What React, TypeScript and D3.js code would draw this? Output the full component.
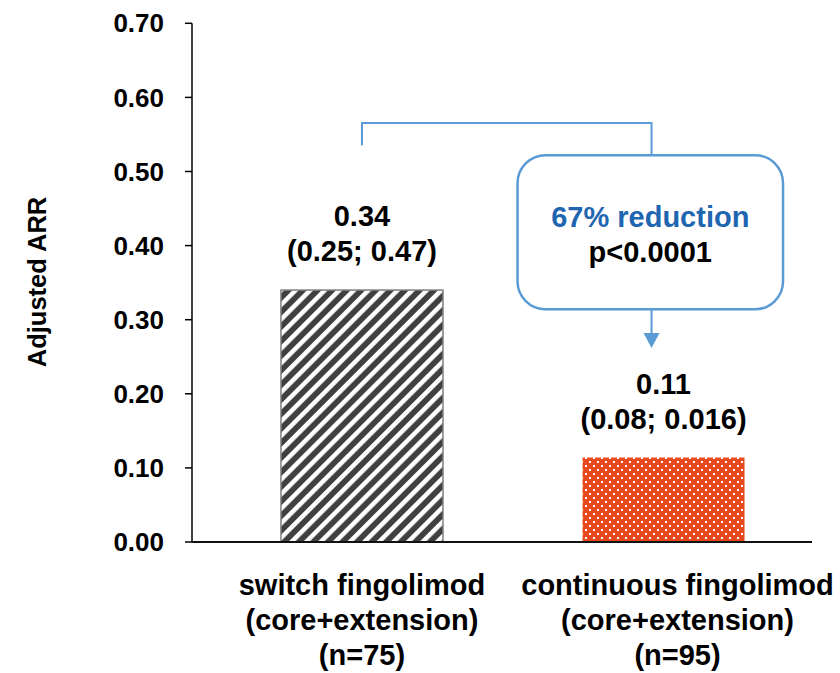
import * as d3 from "d3";
import React from "react";

const categories = ["switch", "continuous"];
const values = [0.34, 0.114];
const valueLabels = ["0.34", "0.11"];
const ciLabels = ["(0.25; 0.47)", "(0.08; 0.016)"];
const categoryLines = [
  ["switch fingolimod", "(core+extension)", "(n=75)"],
  ["continuous fingolimod", "(core+extension)", "(n=95)"],
];
const yTicks = [0, 0.1, 0.2, 0.3, 0.4, 0.5, 0.6, 0.7];
const reductionText = "67% reduction";
const pValueText = "p<0.0001";

const WIDTH = 840;
const HEIGHT = 673;
const FONT = "'Liberation Sans', Arial, Helvetica, sans-serif";
const BLUE_LINE = "#5B9BD5";
const LABEL_SIZE = 29;

const App: React.FC = () => {
  const axisLeft = 192;
  const axisRight = 812;

  const y = d3.scaleLinear().domain([0, 0.7]).range([542, 23.3]);
  const x = d3
    .scaleBand<string>()
    .domain(categories)
    .range([190.5, 835])
    .paddingInner(0.4627)
    .paddingOuter(0.3);

  const bw = x.bandwidth();
  const cx = (c: string) => (x(c) ?? 0) + bw / 2;

  // callout geometry, anchored on the bars
  const legLeft = cx(categories[0]);
  const legRight = cx(categories[1]) - 12;
  const boxLeft = legRight - 134;
  const boxRight = legRight + 131.5;
  const bracketTop = y(0.5656);
  const legBottom = y(0.5355);
  const boxTop = y(0.522);
  const boxBottom = y(0.314);
  const arrowTip = y(0.2617);

  const labelDx = [0, 14];

  return (
    <svg
      width={WIDTH}
      height={HEIGHT}
      style={{ position: "absolute", left: 0, top: 0, background: "#fff" }}
      fontFamily={FONT}
      fontWeight="bold"
    >
      <defs>
        <pattern
          id="hatch"
          width={10.3}
          height={10.3}
          patternUnits="userSpaceOnUse"
          patternTransform="rotate(45)"
        >
          <rect width={10.3} height={10.3} fill="#404040" />
          <rect width={4.5} height={10.3} fill="#fff" />
        </pattern>
        <pattern id="dots" width={8} height={8} patternUnits="userSpaceOnUse">
          <rect width={8} height={8} fill="#E84A20" />
          <rect x={1} y={1} width={2} height={2} fill="#fff" />
          <rect x={5} y={5} width={2} height={2} fill="#fff" />
        </pattern>
      </defs>

      {/* y axis */}
      <line x1={axisLeft} x2={axisLeft} y1={y(0.7)} y2={y(0)} stroke="#000" strokeWidth={1.5} />
      {yTicks.map((t) => (
        <g key={t}>
          <line x1={axisLeft - 7} x2={axisLeft} y1={y(t)} y2={y(t)} stroke="#000" strokeWidth={1.5} />
          <text x={164} y={y(t)} dy="0.35em" textAnchor="end" fontSize={26} fill="#000">
            {t.toFixed(2)}
          </text>
        </g>
      ))}
      <text
        transform={`translate(46,282) rotate(-90)`}
        textAnchor="middle"
        fontSize={25.5}
        fill="#000"
      >
        Adjusted ARR
      </text>

      {/* bars */}
      {categories.map((c, i) => (
        <rect
          key={c}
          x={x(c)}
          y={y(values[i])}
          width={bw}
          height={y(0) - y(values[i])}
          fill={i === 0 ? "url(#hatch)" : "url(#dots)"}
          stroke={i === 0 ? "#7f7f7f" : "none"}
          strokeWidth={1.5}
        />
      ))}

      {/* x axis */}
      <line x1={axisLeft} x2={axisRight} y1={y(0)} y2={y(0)} stroke="#111" strokeWidth={2} />

      {/* value labels */}
      {categories.map((c, i) => (
        <g key={c} fontSize={LABEL_SIZE} textAnchor="middle" fill="#000">
          <text x={cx(c)} y={y(values[i]) - 64}>{valueLabels[i]}</text>
          <text x={cx(c)} y={y(values[i]) - 29}>{ciLabels[i]}</text>
        </g>
      ))}

      {/* category labels */}
      {categories.map((c, i) => (
        <g key={c} fontSize={LABEL_SIZE} textAnchor="middle" fill="#000">
          {categoryLines[i].map((line, j) => (
            <text key={j} x={cx(c) + labelDx[i]} y={595 + j * 35}>
              {line}
            </text>
          ))}
        </g>
      ))}

      {/* callout */}
      <path
        d={`M${legLeft},${legBottom}V${bracketTop}H${legRight}V${boxTop}`}
        fill="none"
        stroke={BLUE_LINE}
        strokeWidth={2}
      />
      <rect
        x={boxLeft}
        y={boxTop}
        width={boxRight - boxLeft}
        height={boxBottom - boxTop}
        rx={28}
        ry={28}
        fill="#fff"
        stroke={BLUE_LINE}
        strokeWidth={2.5}
      />
      <line x1={legRight} x2={legRight} y1={boxBottom} y2={arrowTip - 12} stroke={BLUE_LINE} strokeWidth={2} />
      <path
        d={`M${legRight - 8},${arrowTip - 15}L${legRight + 8},${arrowTip - 15}L${legRight},${arrowTip}Z`}
        fill={BLUE_LINE}
      />
      <text x={(boxLeft + boxRight) / 2} y={227} textAnchor="middle" fontSize={LABEL_SIZE} fill="#1F66B1">
        {reductionText}
      </text>
      <text x={(boxLeft + boxRight) / 2} y={262} textAnchor="middle" fontSize={LABEL_SIZE} fill="#000">
        {pValueText}
      </text>
    </svg>
  );
};

export default App;
